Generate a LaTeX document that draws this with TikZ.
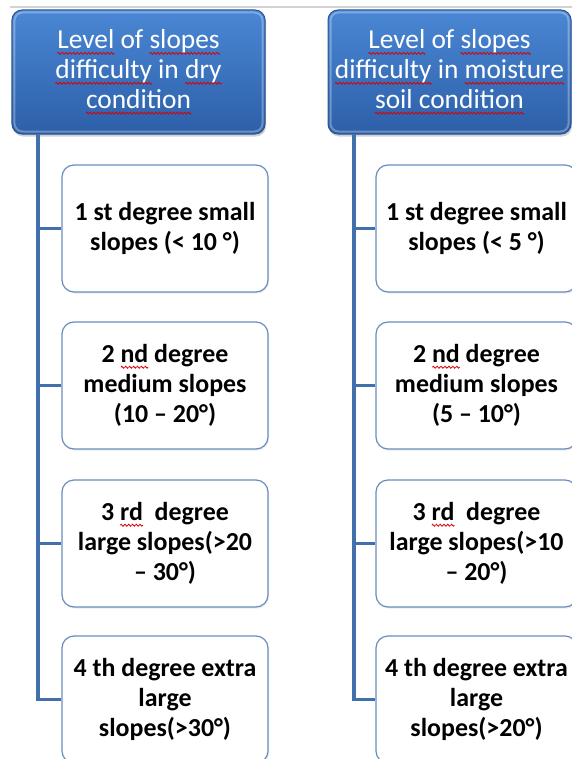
\documentclass[tikz,border=0pt]{standalone}
\usepackage{fontspec}
\setmainfont{Carlito}
\usetikzlibrary{shadows}
\newsavebox\wavebox
\sbox\wavebox{\tikz[x=1bp,y=1bp,baseline=0bp]{\useasboundingbox (0,-1) rectangle (3.6,1);
  \draw[red!85!black,line width=0.8bp] (0,0) sin (0.9,1) cos (1.8,0) sin (2.7,-1) cos (3.6,0);}}
\newcommand\wavy[1]{\leavevmode\setbox0\hbox{#1}\rlap{\raisebox{-4.5bp}{\hbox to \wd0{\xleaders\copy\wavebox\hfil}}}\box0\relax}
\definecolor{hdtop}{HTML}{4A87D4}
\definecolor{hdbot}{HTML}{2D5FA8}
\definecolor{hdline}{HTML}{2A5596}
\definecolor{boxline}{HTML}{6A8CBE}
\definecolor{connc}{HTML}{4270AC}
\tikzset{
  header/.style={rectangle, rounded corners=10bp, draw=hdline, line width=1bp,
    top color=hdtop, bottom color=hdbot, text=white, align=center,
    font=\fontsize{27.5}{30}\selectfont, inner sep=1bp,
    drop shadow={shadow xshift=1bp, shadow yshift=-2.5bp, opacity=0.35}},
  child/.style={rectangle, rounded corners=12bp, draw=boxline, line width=1.2bp,
    fill=white, align=center, font=\bfseries\fontsize{26}{30}\selectfont,
    inner sep=1bp, minimum height=127bp,
    drop shadow={shadow xshift=1bp, shadow yshift=-1.5bp, opacity=0.15}},
  conn/.style={draw=connc, line width=3.2bp},
  gloss/.style={draw=white, opacity=0.3, line width=2bp, rounded corners=8bp}
}
\begin{document}
\begin{tikzpicture}[x=1bp,y=-1bp]
\useasboundingbox (0,0) rectangle (572,759);
\fill[white] (0,0) rectangle (572,759);
\draw[gray!35, line width=1.5bp] (10,7) -- (572,7);

% headers
\node[header, minimum width=253bp, minimum height=124bp] (hL) at (138.5,72)
  {\wavy{Level} of \wavy{slopes}\\\wavy{difficulty} in \wavy{dry}\\\wavy{condition}};
\draw[gloss] ([shift={(3bp,-3bp)}]hL.north west) rectangle ([shift={(-3bp,3bp)}]hL.south east);
\node[header, minimum width=243bp, minimum height=124bp] (hR) at (449.5,72)
  {\wavy{Level} of \wavy{slopes}\\\wavy{difficulty} in \wavy{moisture}\\\wavy{soil condition}};
\draw[gloss] ([shift={(3bp,-3bp)}]hR.north west) rectangle ([shift={(-3bp,3bp)}]hR.south east);

% left children
\node[child, minimum width=206bp] (l1) at (165,228.5) {1 st degree small\\slopes (< 10 °)};
\node[child, minimum width=206bp] (l2) at (165,385.5) {2 \wavy{nd} degree\\medium slopes\\(10 – 20°)};
\node[child, minimum width=206bp] (l3) at (165,543.5) {3 \wavy{rd}~ degree\\large slopes(>20\\– 30°)};
\node[child, minimum width=206bp] (l4) at (165,699.5) {4 th degree extra\\large\\slopes(>30°)};

% right children
\node[child, minimum width=201bp] (r1) at (476.5,228.5) {1 st degree small\\slopes (< 5 °)};
\node[child, minimum width=201bp] (r2) at (476.5,385.5) {2 \wavy{nd} degree\\medium slopes\\(5 – 10°)};
\node[child, minimum width=201bp] (r3) at (476.5,543.5) {3 \wavy{rd}~ degree\\large slopes(>10\\– 20°)};
\node[child, minimum width=201bp] (r4) at (476.5,699.5) {4 th degree extra\\large\\slopes(>20°)};

% connectors
\coordinate (tL) at (38,134);
\coordinate (tR) at (354,134);
\draw[conn] (tL) |- (l4.west);
\foreach \n in {l1,l2,l3} \draw[conn] (tL |- \n.west) -- (\n.west);
\draw[conn] (tR) |- (r4.west);
\foreach \n in {r1,r2,r3} \draw[conn] (tR |- \n.west) -- (\n.west);
\end{tikzpicture}
\end{document}
